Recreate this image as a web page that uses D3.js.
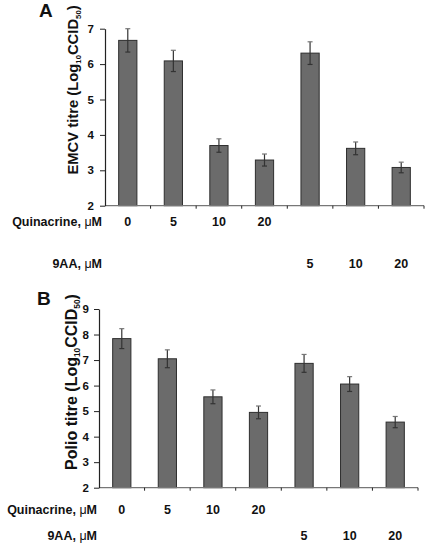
<!DOCTYPE html>
<html><head><meta charset="utf-8">
<script src="https://cdn.jsdelivr.net/npm/d3@7/dist/d3.min.js"></script>
<style>
body{margin:0;background:#fff;}
svg{display:block;font-family:"Liberation Sans",Arial,sans-serif;}
</style></head>
<body><svg id="c" width="425" height="543"></svg>
<script>
const categories = ["Q0","Q5","Q10","Q20","A5","A10","A20"];
const quinacrineLabels = ["0","5","10","20","","",""];
const aaLabels = ["","","","","5","10","20"];
const emcvValues = [6.67, 6.09, 3.70, 3.29, 6.31, 3.62, 3.08];
const emcvErrors = [0.33, 0.30, 0.19, 0.17, 0.32, 0.18, 0.15];
const polioValues = [7.84, 7.05, 5.56, 4.95, 6.87, 6.06, 4.57];
const polioErrors = [0.39, 0.35, 0.27, 0.25, 0.35, 0.29, 0.22];
const emcvTicks = [2,3,4,5,6,7];
const polioTicks = [2,3,4,5,6,7,8,9];

const svg = d3.select("#c");

function panel(opt){
  const g = svg.append("g");
  const x = d3.scaleBand().domain(categories).range([opt.x0, opt.x1]).paddingInner(0.6).paddingOuter(0.3);
  const y = d3.scaleLinear().domain([2, opt.ymax]).range([opt.y0, opt.y1]);
  // bars
  g.selectAll("rect.bar").data(opt.values).join("rect")
    .attr("x",(d,i)=>x(categories[i])).attr("width",x.bandwidth())
    .attr("y",d=>y(d)).attr("height",d=>y(2)-y(d))
    .attr("fill","#6b6b6b").attr("stroke","#2e2e2e").attr("stroke-width",1);
  // error bars
  const eb = g.selectAll("g.eb").data(opt.values).join("g");
  eb.append("line")
    .attr("x1",(d,i)=>x(categories[i])+x.bandwidth()/2).attr("x2",(d,i)=>x(categories[i])+x.bandwidth()/2)
    .attr("y1",(d,i)=>y(d+opt.errors[i])).attr("y2",(d,i)=>y(d-opt.errors[i]))
    .attr("stroke","#333").attr("stroke-width",1.2);
  [1,-1].forEach(s=>{
    eb.append("line")
      .attr("x1",(d,i)=>x(categories[i])+x.bandwidth()/2-2.5).attr("x2",(d,i)=>x(categories[i])+x.bandwidth()/2+2.5)
      .attr("y1",(d,i)=>y(d+s*opt.errors[i])).attr("y2",(d,i)=>y(d+s*opt.errors[i]))
      .attr("stroke",s>0?"#777":"#333").attr("stroke-width",1.2);
  });
  // x axis line and ticks
  g.append("line").attr("x1",opt.x0).attr("x2",opt.x1).attr("y1",y(2)).attr("y2",y(2))
    .attr("stroke","#777").attr("stroke-width",1.2);
  const step = x.step();
  const bounds = d3.range(categories.length+1).map(i=>opt.x0 + i*step);
  g.selectAll("line.xt").data(bounds.slice(1)).join("line")
    .attr("x1",d=>d).attr("x2",d=>d).attr("y1",y(2)).attr("y2",y(2)+3)
    .attr("stroke","#222").attr("stroke-width",1);
  // y axis
  const ya = g.append("g").attr("transform",`translate(${opt.x0},0)`)
    .call(d3.axisLeft(y).tickValues(opt.ticks).tickSize(5).tickSizeOuter(0).tickFormat(d3.format("d")));
  ya.select(".domain").attr("stroke","#222").attr("stroke-width",1.2);
  ya.selectAll(".tick line").attr("stroke","#222");
  ya.selectAll(".tick text").attr("font-family","Liberation Sans, Arial, sans-serif")
    .attr("font-size",11.5).attr("font-weight","bold").attr("fill","#111").attr("x",-opt.tickGap);
  // y title
  const fs = opt.titleSize, sub = fs*0.52;
  const t = g.append("text").attr("transform",`translate(${opt.titleX},${opt.titleY}) rotate(-90)`)
    .attr("text-anchor","middle").attr("font-size",fs).attr("font-weight","bold").attr("fill","#111");
  t.append("tspan").text(opt.title + " (Log");
  t.append("tspan").text("10").attr("font-size",sub).attr("dy",3);
  t.append("tspan").text("CCID").attr("dy",-3);
  t.append("tspan").text("50").attr("font-size",sub).attr("dy",3);
  t.append("tspan").text(")").attr("dy",-3);
  // panel letter
  g.append("text").attr("x",opt.letterX).attr("y",opt.letterY).text(opt.letter)
    .attr("font-size",19).attr("font-weight","bold").attr("fill","#111");
  // rows
  const rows = [{lab:"Quinacrine, ", vals:quinacrineLabels, yy:opt.row1},{lab:"9AA, ", vals:aaLabels, yy:opt.row2}];
  rows.forEach(r=>{
    const lt = g.append("text").attr("x",opt.labelRight).attr("y",r.yy).attr("text-anchor","end")
      .attr("font-size",12.5).attr("font-weight","bold").attr("fill","#111");
    lt.append("tspan").text(r.lab);
    lt.append("tspan").text("\u03bc").attr("font-weight","normal");
    lt.append("tspan").text("M");
    g.selectAll(null).data(r.vals).join("text")
      .attr("x",(d,i)=>x(categories[i])+x.bandwidth()/2).attr("y",r.yy)
      .attr("text-anchor","middle").attr("font-size",12.5).attr("font-weight","bold").attr("fill","#111")
      .text(d=>d);
  });
}

panel({x0:105, x1:424, y0:205.7, y1:28.7, ymax:7, values:emcvValues, errors:emcvErrors, ticks:emcvTicks,
  title:"EMCV titre", titleSize:14.8, titleX:77.5, titleY:90, tickGap:11, letter:"A", letterX:39, letterY:17,
  labelRight:102, row1:226, row2:268});
panel({x0:99, x1:418, y0:487.7, y1:309, ymax:9, values:polioValues, errors:polioErrors, ticks:polioTicks,
  title:"Polio titre", titleSize:16, titleX:76.5, titleY:382, tickGap:10, letter:"B", letterX:37, letterY:305,
  labelRight:97, row1:514, row2:540});
</script></body></html>
